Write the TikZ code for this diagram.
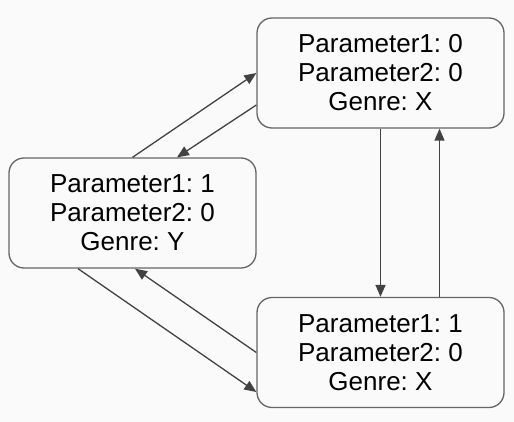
\documentclass[tikz,border=0pt]{standalone}
\usepackage{fontspec}
\setmainfont{Liberation Sans}
\usetikzlibrary{arrows.meta}
\frenchspacing
\begin{document}
\begin{tikzpicture}[x=1pt,y=-1pt,
  statebox/.style={draw=boxgray, line width=1.3pt, rounded corners=15pt,
    minimum width=247pt, minimum height=110pt, inner sep=0pt,
    align=center, font=\fontsize{26}{29}\selectfont\frenchspacing, text=black},
  conn/.style={draw=arrgray, line width=1.3pt,
    -{Triangle[length=12pt,width=10pt]}}]
\definecolor{boxgray}{HTML}{666666}
\definecolor{arrgray}{HTML}{424242}
\definecolor{bgcol}{HTML}{FAFAFA}
\fill[bgcol] (0,0) rectangle (514,422);
\useasboundingbox (0,0) rectangle (514,422);
\node[statebox] (top) at (380.5,73) {Parameter1: 0\\Parameter2: 0\\Genre: X};
\node[statebox] (left) at (132.5,213) {Parameter1: 1\\Parameter2: 0\\Genre: Y};
\node[statebox] (bot) at (380.5,352.5) {Parameter1: 1\\Parameter2: 0\\Genre: X};
\draw[conn] (left.north) -- (top.west);
\draw[conn] ([yshift=-32pt]top.west) -- ([xshift=44.5pt]left.north);
\draw[conn] (top.south) -- (bot.north);
\draw[conn] ([xshift=59pt]bot.north) -- ([xshift=59pt]top.south);
\draw[conn] ([xshift=-54.5pt]left.south) -- ([yshift=-39.5pt]bot.west);
\draw[conn] (bot.west) -- ([xshift=2.5pt]left.south);
\end{tikzpicture}
\end{document}
